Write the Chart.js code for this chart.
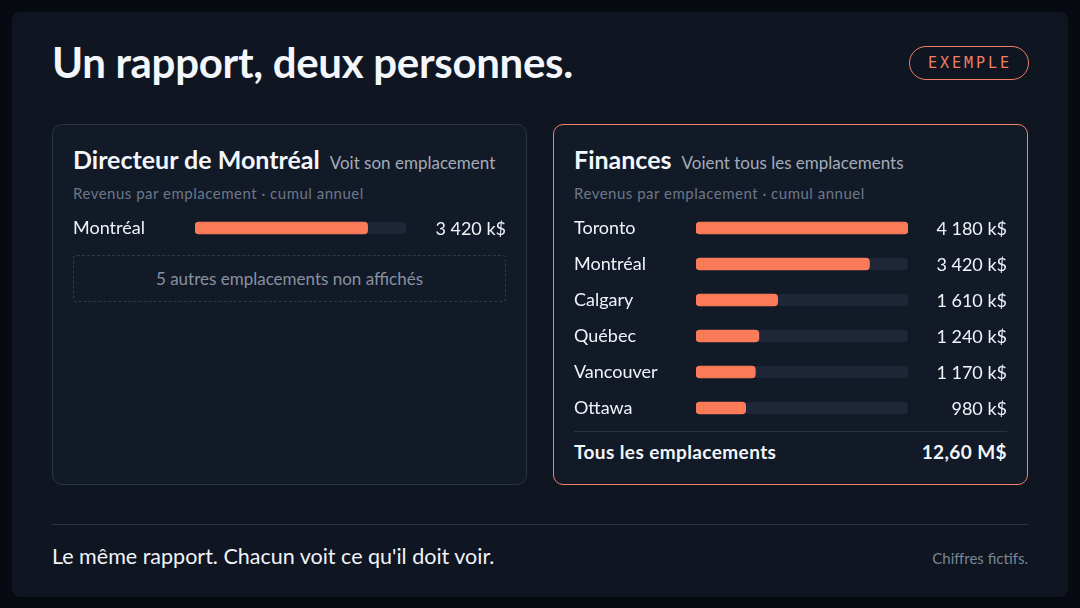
<!DOCTYPE html>
<html lang="fr">
<head>
<meta charset="utf-8">
<script src="https://cdn.jsdelivr.net/npm/chart.js@4/dist/chart.umd.min.js"></script>
<style>
  html,body{margin:0;padding:0;}
  body{width:1080px;height:608px;background:#070a10;font-family:Lato,"Noto Sans",sans-serif;position:relative;overflow:hidden;}
  .frame{position:absolute;left:12px;top:12px;width:1056px;height:585px;background:#0f1521;border-radius:8px;}
  .abs{position:absolute;white-space:nowrap;}
  .title{left:52px;top:36px;font-size:42px;font-weight:700;color:#f3f6fb;line-height:52px;letter-spacing:-0.3px;}
  .badge{left:909px;top:46px;width:116px;height:32px;border:1.5px solid #f07f63;border-radius:18px;color:#f07f63;font-family:"DejaVu Sans Mono",monospace;font-size:15px;letter-spacing:3px;text-align:center;line-height:32px;padding-left:2px;box-sizing:content-box;}
  .panel{position:absolute;top:124px;width:473px;height:359px;background:#121a28;border-radius:10px;}
  .pl{left:52px;border:1px solid #2a3445;}
  .pr{left:553px;border:1.5px solid #f08469;}
  .h{font-size:25px;font-weight:700;color:#f3f6fb;line-height:30px;}
  .hs{font-size:17px;color:#a3abb9;font-weight:400;margin-left:10px;}
  .sub{font-size:15px;color:#6d7788;letter-spacing:0.5px;line-height:18px;}
  .dash{left:73px;top:255px;width:431px;height:45px;border:1px dashed #2e3849;border-radius:4px;color:#8891a1;font-size:17px;text-align:center;line-height:45px;}
  .divider{position:absolute;height:1px;background:#283243;}
  .tot{font-size:19px;font-weight:700;color:#f3f6fb;line-height:24px;letter-spacing:0.4px;}
  .foot{left:52px;top:542px;font-size:21.5px;color:#f0f3f8;line-height:28px;}
  .fict{right:52px;top:548px;font-size:15px;color:#7c8595;line-height:20px;}
  canvas{position:absolute;}
</style>
</head>
<body>
<div class="frame"></div>
<div class="abs title">Un rapport, deux personnes.</div>
<div class="abs badge">EXEMPLE</div>

<div class="panel pl"></div>
<div class="panel pr"></div>

<div class="abs h" style="left:73px;top:144px;">Directeur de Montréal<span class="hs">Voit son emplacement</span></div>
<div class="abs sub" style="left:73px;top:184px;">Revenus par emplacement · cumul annuel</div>
<div class="abs dash">5 autres emplacements non affichés</div>

<div class="abs h" style="left:574px;top:144px;">Finances<span class="hs">Voient tous les emplacements</span></div>
<div class="abs sub" style="left:574px;top:184px;">Revenus par emplacement · cumul annuel</div>
<div class="divider" style="left:574px;top:431px;width:433px;"></div>
<div class="abs tot" style="left:574px;top:440px;">Tous les emplacements</div>
<div class="abs tot" id="total" style="right:73px;top:440px;"></div>

<div class="divider" style="left:52px;top:524px;width:976px;"></div>
<div class="abs foot">Le même rapport. Chacun voit ce qu'il doit voir.</div>
<div class="abs fict">Chiffres fictifs.</div>

<canvas id="cLeft" style="left:73px;top:210px;" width="433" height="36"></canvas>
<canvas id="cRight" style="left:574px;top:210px;" width="433" height="216"></canvas>

<script>
// ---- Data ----
const financeCities = ["Toronto", "Montréal", "Calgary", "Québec", "Vancouver", "Ottawa"];
const financeRevenue = [4180, 3420, 1610, 1240, 1170, 980];   // k$
const directorCities = ["Montréal"];
const directorRevenue = [3420];                                // k$
const unit = "k$";

const BAR = "#fb7a58";
const TRACK = "#1d2738";
const scaleMax = Math.max(...financeRevenue);

function fmt(v){
  return String(v).replace(/\B(?=(\d{3})+(?!\d))/g, " ") + " " + unit;
}
const total = financeRevenue.reduce((a,b)=>a+b,0);
document.getElementById("total").textContent = (total/1000).toFixed(2).replace(".", ",") + " M$";

const trackPlugin = {
  id: "track",
  beforeDatasetsDraw(chart){
    const {ctx, chartArea} = chart;
    const meta = chart.getDatasetMeta(0);
    ctx.save();
    ctx.fillStyle = TRACK;
    meta.data.forEach(el=>{
      const h = el.height;
      ctx.beginPath();
      ctx.roundRect(chartArea.left, el.y - h/2, chartArea.right - chartArea.left, h, 4);
      ctx.fill();
    });
    ctx.restore();
  }
};
const valuePlugin = {
  id: "values",
  afterDatasetsDraw(chart){
    const {ctx} = chart;
    const meta = chart.getDatasetMeta(0);
    const data = chart.data.datasets[0].data;
    ctx.save();
    ctx.fillStyle = "#f0f3f8";
    ctx.font = "400 18px Lato, 'Noto Sans', sans-serif";
    ctx.textAlign = "right";
    ctx.textBaseline = "middle";
    meta.data.forEach((el,i)=>{
      ctx.fillText(fmt(data[i]), chart.width, el.y + 1);
    });
    ctx.restore();
  }
};

function makeChart(id, labels, values, rightPad){
  return new Chart(document.getElementById(id), {
    type: "bar",
    data: { labels, datasets: [{ data: values, backgroundColor: BAR, borderRadius: 4, borderSkipped: false, barThickness: 12 }] },
    options: {
      responsive: false,
      animation: false,
      indexAxis: "y",
      layout: { autoPadding: false, padding: { left: 0, right: rightPad, top: 0, bottom: 0 } },
      plugins: { legend: { display: false }, tooltip: { enabled: false } },
      scales: {
        x: { min: 0, max: scaleMax, display: false },
        y: {
          grid: { display: false }, border: { display: false },
          ticks: { color: "#f0f3f8", font: { family: "Lato, 'Noto Sans', sans-serif", size: 18 }, crossAlign: "far", padding: 0 },
          afterFit(s){ s.width = 122; s.paddingTop = 0; s.paddingBottom = 0; }
        }
      }
    },
    plugins: [trackPlugin, valuePlugin]
  });
}
makeChart("cLeft", directorCities, directorRevenue, 100);
makeChart("cRight", financeCities, financeRevenue, 99);
</script>
</body>
</html>
